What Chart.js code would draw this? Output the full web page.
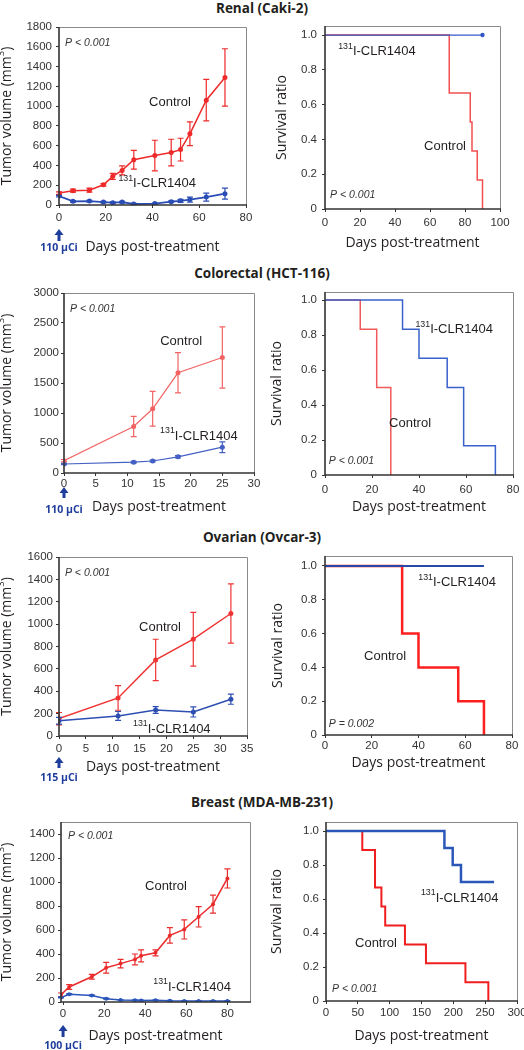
<!DOCTYPE html>
<html>
<head>
<meta charset="utf-8">
<script src="https://cdn.jsdelivr.net/npm/chart.js@4.4.1/dist/chart.umd.min.js"></script>
<style>
  html, body { margin: 0; padding: 0; background: #fff; }
  body { width: 524px; height: 1050px; position: relative; overflow: hidden; }
  canvas { position: absolute; }
  .title { position: absolute; left: 0; width: 524px; text-align: center; line-height: 20px;
           font: bold 13.5px "Open Sans", sans-serif; color: #231f20; }
</style>
</head>
<body>
<div class="title" style="top:-1px">Renal (Caki-2)</div>
<div class="title" style="top:264px">Colorectal (HCT-116)</div>
<div class="title" style="top:528px">Ovarian (Ovcar-3)</div>
<div class="title" style="top:793px">Breast (MDA-MB-231)</div>
<canvas id="renalTumor"></canvas>
<canvas id="renalSurv"></canvas>
<canvas id="colonTumor"></canvas>
<canvas id="colonSurv"></canvas>
<canvas id="ovaryTumor"></canvas>
<canvas id="ovarySurv"></canvas>
<canvas id="breastTumor"></canvas>
<canvas id="breastSurv"></canvas>
<script>
// ---------- data ----------
// Renal (Caki-2)
const renalDays = [0, 6, 13, 19, 23, 27, 32, 41, 48, 52, 56, 63, 71];
const renalControl = [120, 145, 150, 205, 290, 350, 457, 500, 530, 560, 720, 1060, 1290];
const renalControlErr = [12, 15, 20, 12, 30, 45, 95, 155, 135, 115, 120, 210, 290];
const renalDrug = [90, 37, 40, 30, 24, 30, 10, 14, 34, 42, 55, 80, 115];
const renalDrugErr = [8, 8, 8, 8, 8, 8, 6, 6, 8, 15, 25, 40, 55];
const renalSurvControlDays = [0, 71, 83, 84, 87, 90];
const renalSurvControl = [1, 0.667, 0.5, 0.333, 0.167, 0];
const renalSurvDrugDays = [0, 90];
const renalSurvDrug = [1, 1];

// Colorectal (HCT-116)
const colonDays = [0, 11, 14, 18, 25];
const colonControl = [205, 775, 1070, 1670, 1925];
const colonControlErr = [20, 170, 290, 335, 510];
const colonDrug = [150, 180, 200, 270, 430];
const colonDrugErr = [10, 15, 15, 20, 90];
const colonSurvControlDays = [0, 15, 22, 28];
const colonSurvControl = [1, 0.833, 0.5, 0];
const colonSurvDrugDays = [0, 33, 40, 52, 59, 72.5];
const colonSurvDrug = [1, 0.833, 0.667, 0.5, 0.167, 0];

// Ovarian (Ovcar-3)
const ovaryDays = [0, 11, 18, 25, 32];
const ovaryControl = [155, 340, 680, 865, 1095];
const ovaryControlErr = [55, 110, 185, 240, 265];
const ovaryDrug = [137, 179, 233, 215, 329];
const ovaryDrugErr = [30, 40, 30, 45, 45];
const ovarySurvControlDays = [0, 33, 40, 57, 68];
const ovarySurvControl = [1, 0.6, 0.4, 0.2, 0];
const ovarySurvDrugDays = [0, 68];
const ovarySurvDrug = [1, 1];

// Breast (MDA-MB-231)
const breastDays = [-1, 3, 14, 21, 28, 35, 38, 45, 52, 59, 66, 73, 80];
const breastControl = [60, 125, 210, 285, 320, 355, 385, 410, 555, 605, 710, 815, 1030];
const breastControlErr = [15, 20, 20, 45, 35, 45, 50, 25, 65, 80, 85, 75, 80];
const breastDrug = [38, 65, 55, 28, 17, 15, 12, 15, 10, 8, 8, 8, 8];
const breastDrugErr = [4, 4, 4, 4, 3, 3, 3, 3, 3, 3, 3, 3, 3];
const breastSurvControlDays = [0, 57, 77, 87, 93, 124, 157, 219, 255];
const breastSurvControl = [1, 0.889, 0.667, 0.556, 0.444, 0.333, 0.222, 0.111, 0];
const breastSurvDrugDays = [0, 186, 199, 212, 264];
const breastSurvDrug = [1, 0.9, 0.8, 0.7, 0.7];

// tick values
const renalYTicks = [0, 200, 400, 600, 800, 1000, 1200, 1400, 1600, 1800];
const renalXTicks = [0, 20, 40, 60, 80];
const renalSurvXTicks = [0, 20, 40, 60, 80, 100];
const colonYTicks = [0, 500, 1000, 1500, 2000, 2500, 3000];
const colonXTicks = [0, 5, 10, 15, 20, 25, 30];
const ovaryYTicks = [0, 200, 400, 600, 800, 1000, 1200, 1400, 1600];
const ovaryXTicks = [0, 5, 10, 15, 20, 25, 30, 35];
const breastYTicks = [0, 200, 400, 600, 800, 1000, 1200, 1400];
const breastXTicks = [0, 20, 40, 60, 80];
const survYTicks = [0, 0.2, 0.4, 0.6, 0.8, 1.0];
const survXTicks80 = [0, 20, 40, 60, 80];
const breastSurvXTicks = [0, 50, 100, 150, 200, 250, 300];

// ---------- styling ----------
const TICK_FONT = { family: '"Liberation Sans", Arial, sans-serif', size: 11.5 };
const LABEL_FONT = '"Liberation Sans", Arial, sans-serif';
const TITLE_FONT = '"Open Sans", sans-serif';
const DOSE_BLUE = '#1f3d9c';
const AXIS_DARK = '#333';
const AXIS_LIGHT = '#8a8a8a';

const CLR = [['131', 'sup'], ['I-CLR1404', '']];
const CONTROL = [['Control', '']];
const TUMOR_TITLE = [['Tumor volume (mm', ''], ['3', 'sup'], [')', '']];
const SURV_TITLE = [['Survival ratio', '']];
const DAYS_TITLE = [['Days post-treatment', '']];

const decorSpecs = {};

function pts(xs, ys) {
  return xs.map((x, i) => ({ x: x, y: ys[i] }));
}

function drawParts(ctx, parts, x, y, style, size, family, align) {
  const fontOf = (p) => style + ' ' + (p[1] === 'sup' ? size * 0.68 : size) + 'px ' + family;
  let w = 0;
  parts.forEach(p => { ctx.font = fontOf(p); w += ctx.measureText(p[0]).width; });
  let cx = align === 'center' ? x - w / 2 : (align === 'right' ? x - w : x);
  ctx.textAlign = 'left';
  ctx.textBaseline = 'middle';
  parts.forEach(p => {
    ctx.font = fontOf(p);
    ctx.fillText(p[0], cx, p[1] === 'sup' ? y - size * 0.38 : y);
    cx += ctx.measureText(p[0]).width;
  });
}

const decorPlugin = {
  id: 'decor',
  afterDatasetsDraw(chart) {
    // error bars
    const ctx = chart.ctx;
    const ys = chart.scales.y;
    chart.data.datasets.forEach((ds, di) => {
      if (!ds.errorBars) return;
      const meta = chart.getDatasetMeta(di);
      ctx.save();
      ctx.strokeStyle = ds.borderColor;
      ctx.lineWidth = 1.2;
      meta.data.forEach((pt, i) => {
        const e = ds.errorBars[i];
        if (!e) return;
        const v = ds.data[i].y;
        const top = ys.getPixelForValue(v + e);
        const bot = ys.getPixelForValue(v - e);
        ctx.beginPath();
        ctx.moveTo(pt.x, top); ctx.lineTo(pt.x, bot);
        ctx.moveTo(pt.x - 3, top); ctx.lineTo(pt.x + 3, top);
        ctx.moveTo(pt.x - 3, bot); ctx.lineTo(pt.x + 3, bot);
        ctx.stroke();
      });
      ctx.restore();
    });
  },
  afterDraw(chart) {
    const spec = decorSpecs[chart.canvas.id];
    if (!spec) return;
    const ctx = chart.ctx;
    const a = chart.chartArea;
    const xs = chart.scales.x;
    const ys = chart.scales.y;
    const L = Math.round(a.left), R = Math.round(a.right), T = Math.round(a.top), B = Math.round(a.bottom);
    ctx.save();
    // frame: light top/right, dark left/bottom
    ctx.strokeStyle = AXIS_LIGHT;
    ctx.lineWidth = 1;
    ctx.beginPath();
    ctx.moveTo(L, T + 0.5); ctx.lineTo(R + 0.5, T + 0.5); ctx.lineTo(R + 0.5, B);
    ctx.stroke();
    ctx.strokeStyle = AXIS_DARK;
    ctx.lineWidth = 1.6;
    ctx.beginPath();
    ctx.moveTo(L, T); ctx.lineTo(L, B); ctx.lineTo(R + 1, B);
    ctx.stroke();

    // in-plot labels
    spec.labels.forEach(l => {
      ctx.fillStyle = l.color || '#231f20';
      drawParts(ctx, l.parts, xs.getPixelForValue(l.x), ys.getPixelForValue(l.y),
        l.style || '', l.size || 13, LABEL_FONT, l.align || 'center');
    });

    // axis titles
    ctx.fillStyle = '#231f20';
    drawParts(ctx, DAYS_TITLE, (a.left + a.right) / 2, a.bottom + spec.xTitleOffset, '', 14, TITLE_FONT, 'center');
    ctx.save();
    ctx.translate(a.left + spec.yTitleOffset, (a.top + a.bottom) / 2);
    ctx.rotate(-Math.PI / 2);
    drawParts(ctx, spec.yTitle, 0, 0, '', 14, TITLE_FONT, 'center');
    ctx.restore();

    // dose arrow under day 0
    if (spec.dose) {
      const d = spec.dose;
      const x0 = xs.getPixelForValue(0);
      ctx.fillStyle = DOSE_BLUE;
      ctx.beginPath();
      ctx.moveTo(x0, a.bottom + d.tip);
      ctx.lineTo(x0 - 4.5, a.bottom + d.tip + 6);
      ctx.lineTo(x0 + 4.5, a.bottom + d.tip + 6);
      ctx.closePath();
      ctx.fill();
      ctx.fillRect(x0 - 1.5, a.bottom + d.tip + 5, 3, d.base - d.tip - 5);
      drawParts(ctx, [[d.text, '']], x0, a.bottom + d.textOffset, 'bold', 10.5, TITLE_FONT, 'center');
    }
    ctx.restore();
  }
};
Chart.register(decorPlugin);

function seriesLine(xs, ys, errs, color, width, radius, order) {
  return {
    data: pts(xs, ys),
    errorBars: errs,
    borderColor: color,
    backgroundColor: color,
    borderWidth: width,
    pointRadius: radius,
    pointBorderWidth: 0,
    pointBackgroundColor: color,
    tension: 0,
    order: order
  };
}

function stepLine(xs, ys, color, width, order, radius) {
  return {
    data: pts(xs, ys),
    borderColor: color,
    backgroundColor: color,
    borderWidth: width,
    pointRadius: radius || 0,
    pointBorderWidth: 0,
    stepped: true,
    order: order
  };
}

function makeChart(id, box, plot, datasets, o) {
  const canvas = document.getElementById(id);
  canvas.width = box.w;
  canvas.height = box.h;
  canvas.style.left = box.x + 'px';
  canvas.style.top = box.y + 'px';
  const yW = plot.l - box.x;
  const xH = box.y + box.h - plot.b;
  decorSpecs[id] = o.decor;
  return new Chart(canvas, {
    type: 'line',
    data: { datasets: datasets },
    options: {
      responsive: false,
      animation: false,
      events: [],
      layout: { padding: { top: plot.t - box.y, right: box.x + box.w - plot.r, bottom: 0, left: 0 } },
      plugins: { legend: { display: false }, tooltip: { enabled: false } },
      scales: {
        x: {
          type: 'linear',
          min: o.xMin,
          max: o.xMax,
          afterBuildTicks: (s) => { s.ticks = o.xTicks.map(v => ({ value: v })); },
          afterFit: (s) => { s.height = xH; s.paddingLeft = 0; s.paddingRight = 0; },
          grid: { display: true, drawOnChartArea: false, tickLength: 3, color: AXIS_DARK },
          border: { display: false },
          ticks: { font: TICK_FONT, color: '#333', padding: o.xPad, maxRotation: 0, autoSkip: false,
                   callback: (v) => String(v) }
        },
        y: {
          type: 'linear',
          min: o.yMin,
          max: o.yMax,
          afterBuildTicks: (s) => { s.ticks = o.yTicks.map(v => ({ value: v })); },
          afterFit: (s) => { s.width = yW; s.paddingTop = 0; s.paddingBottom = 0; },
          grid: { display: true, drawOnChartArea: false, tickLength: 3, color: AXIS_DARK },
          border: { display: false },
          ticks: { font: TICK_FONT, color: '#333', padding: o.yPad, autoSkip: false,
                   callback: o.survival ? (v) => (v === 0 ? '0' : v.toFixed(1)) : (v) => String(v) }
        }
      }
    }
  });
}

// ---------- Renal ----------
makeChart('renalTumor', { x: 0, y: 0, w: 262, h: 260 }, { l: 59, t: 27, r: 246, b: 205 }, [
  seriesLine(renalDays, renalControl, renalControlErr, '#ee2a2a', 1.5, 2.5, 1),
  seriesLine(renalDays, renalDrug, renalDrugErr, '#2a4db5', 1.8, 2.5, 0)
], {
  xMin: 0, xMax: 80, xTicks: renalXTicks, yMin: 0, yMax: 1800, yTicks: renalYTicks, xPad: 3, yPad: 4,
  decor: {
    yTitle: TUMOR_TITLE, xTitleOffset: 42, yTitleOffset: -52,
    dose: { tip: 24, base: 36, textOffset: 43, text: '110 \u03bcCi' },
    labels: [
      { parts: CONTROL, x: 47.5, y: 1042 },
      { parts: CLR, x: 42, y: 222 },
      { parts: [['P < 0.001', '']], x: 2.6, y: 1638, style: 'italic', size: 10.5, align: 'left', color: '#333' }
    ]
  }
});

makeChart('renalSurv', { x: 262, y: 0, w: 262, h: 260 }, { l: 325, t: 26, r: 500, b: 209 }, [
  stepLine(renalSurvControlDays, renalSurvControl, '#f25050', 1.5, 1),
  stepLine(renalSurvDrugDays, renalSurvDrug, '#3558c8', 1.3, 0, [0, 2.2])
], {
  xMin: 0, xMax: 100, xTicks: renalSurvXTicks, yMin: 0, yMax: 1.052, yTicks: survYTicks, xPad: 4, yPad: 5,
  survival: true,
  decor: {
    yTitle: SURV_TITLE, xTitleOffset: 34, yTitleOffset: -43,
    labels: [
      { parts: CLR, x: 29.7, y: 0.908 },
      { parts: CONTROL, x: 68.6, y: 0.362 },
      { parts: [['P < 0.001', '']], x: 2.9, y: 0.08, style: 'italic', size: 10.5, align: 'left', color: '#333' }
    ]
  }
});

// ---------- Colorectal ----------
makeChart('colonTumor', { x: 0, y: 260, w: 262, h: 270 }, { l: 64, t: 293, r: 254, b: 473 }, [
  seriesLine(colonDays, colonControl, colonControlErr, '#f26464', 1.2, 2.5, 1),
  seriesLine(colonDays, colonDrug, colonDrugErr, '#4460c4', 1.2, 2.5, 0)
], {
  xMin: 0, xMax: 30, xTicks: colonXTicks, yMin: 0, yMax: 3000, yTicks: colonYTicks, xPad: 1, yPad: 2,
  decor: {
    yTitle: TUMOR_TITLE, xTitleOffset: 34, yTitleOffset: -57,
    dose: { tip: 14, base: 25, textOffset: 37, text: '110 \u03bcCi' },
    labels: [
      { parts: CONTROL, x: 18.5, y: 2200 },
      { parts: CLR, x: 21.3, y: 617 },
      { parts: [['P < 0.001', '']], x: 0.95, y: 2733, style: 'italic', size: 10.5, align: 'left', color: '#333' }
    ]
  }
});

makeChart('colonSurv', { x: 262, y: 260, w: 262, h: 270 }, { l: 325, t: 292, r: 513, b: 475 }, [
  stepLine(colonSurvControlDays, colonSurvControl, '#f05a5a', 1.5, 1),
  stepLine(colonSurvDrugDays, colonSurvDrug, '#3a62cc', 1.5, 0)
], {
  xMin: 0, xMax: 80, xTicks: survXTicks80, yMin: 0, yMax: 1.046, yTicks: survYTicks, xPad: 5, yPad: 5,
  survival: true,
  decor: {
    yTitle: SURV_TITLE, xTitleOffset: 32, yTitleOffset: -48,
    labels: [
      { parts: CLR, x: 55, y: 0.834 },
      { parts: CONTROL, x: 36.2, y: 0.297 },
      { parts: [['P < 0.001', '']], x: 1.6, y: 0.08, style: 'italic', size: 10.5, align: 'left', color: '#333' }
    ]
  }
});

// ---------- Ovarian ----------
makeChart('ovaryTumor', { x: 0, y: 530, w: 262, h: 260 }, { l: 59, t: 557, r: 247, b: 736 }, [
  seriesLine(ovaryDays, ovaryControl, ovaryControlErr, '#ef3434', 1.5, 2.5, 1),
  seriesLine(ovaryDays, ovaryDrug, ovaryDrugErr, '#2e4fb2', 1.5, 2.5, 0)
], {
  xMin: 0, xMax: 35, xTicks: ovaryXTicks, yMin: 0, yMax: 1600, yTicks: ovaryYTicks, xPad: 3, yPad: 3,
  decor: {
    yTitle: TUMOR_TITLE, xTitleOffset: 31, yTitleOffset: -52,
    dose: { tip: 21, base: 32, textOffset: 42, text: '115 \u03bcCi' },
    labels: [
      { parts: CONTROL, x: 18.8, y: 974 },
      { parts: CLR, x: 21, y: 63 },
      { parts: [['P < 0.001', '']], x: 1.1, y: 1457, style: 'italic', size: 10.5, align: 'left', color: '#333' }
    ]
  }
});

makeChart('ovarySurv', { x: 262, y: 530, w: 262, h: 260 }, { l: 325, t: 556, r: 512, b: 735 }, [
  stepLine(ovarySurvControlDays, ovarySurvControl, '#ff1f1f', 2.5, 1),
  stepLine(ovarySurvDrugDays, ovarySurvDrug, '#2848a8', 2, 0)
], {
  xMin: 0, xMax: 80, xTicks: survXTicks80, yMin: 0, yMax: 1.059, yTicks: survYTicks, xPad: 1, yPad: 5,
  survival: true,
  decor: {
    yTitle: SURV_TITLE, xTitleOffset: 28, yTitleOffset: -47,
    labels: [
      { parts: CLR, x: 56.5, y: 0.905 },
      { parts: CONTROL, x: 25.7, y: 0.467 },
      { parts: [['P = 0.002', '']], x: 1.6, y: 0.065, style: 'italic', size: 10.5, align: 'left', color: '#333' }
    ]
  }
});

// ---------- Breast ----------
makeChart('breastTumor', { x: 0, y: 790, w: 262, h: 260 }, { l: 61, t: 822, r: 250, b: 1002 }, [
  seriesLine(breastDays, breastControl, breastControlErr, '#ea2c2c', 1.5, 2, 1),
  seriesLine(breastDays, breastDrug, breastDrugErr, '#2a55bb', 1.5, 2, 0)
], {
  xMin: -1, xMax: 91, xTicks: breastXTicks, yMin: 0, yMax: 1500, yTicks: breastYTicks, xPad: 2, yPad: 3,
  decor: {
    yTitle: TUMOR_TITLE, xTitleOffset: 34, yTitleOffset: -54,
    dose: { tip: 23, base: 35, textOffset: 44, text: '100 \u03bcCi' },
    labels: [
      { parts: CONTROL, x: 50.1, y: 967 },
      { parts: CLR, x: 62.8, y: 125 },
      { parts: [['P < 0.001', '']], x: 2.4, y: 1383, style: 'italic', size: 10.5, align: 'left', color: '#333' }
    ]
  }
});

makeChart('breastSurv', { x: 262, y: 790, w: 262, h: 260 }, { l: 326, t: 822, r: 517, b: 1001 }, [
  stepLine(breastSurvControlDays, breastSurvControl, '#f01e1e', 2, 1),
  stepLine(breastSurvDrugDays, breastSurvDrug, '#2b58b8', 2.5, 0)
], {
  xMin: 0, xMax: 300, xTicks: breastSurvXTicks, yMin: 0, yMax: 1.053, yTicks: survYTicks, xPad: 2, yPad: 4,
  survival: true,
  decor: {
    yTitle: SURV_TITLE, xTitleOffset: 35, yTitleOffset: -49,
    labels: [
      { parts: CLR, x: 210, y: 0.606 },
      { parts: CONTROL, x: 78.5, y: 0.341 },
      { parts: [['P < 0.001', '']], x: 9.4, y: 0.07, style: 'italic', size: 10.5, align: 'left', color: '#333' }
    ]
  }
});
</script>
</body>
</html>
